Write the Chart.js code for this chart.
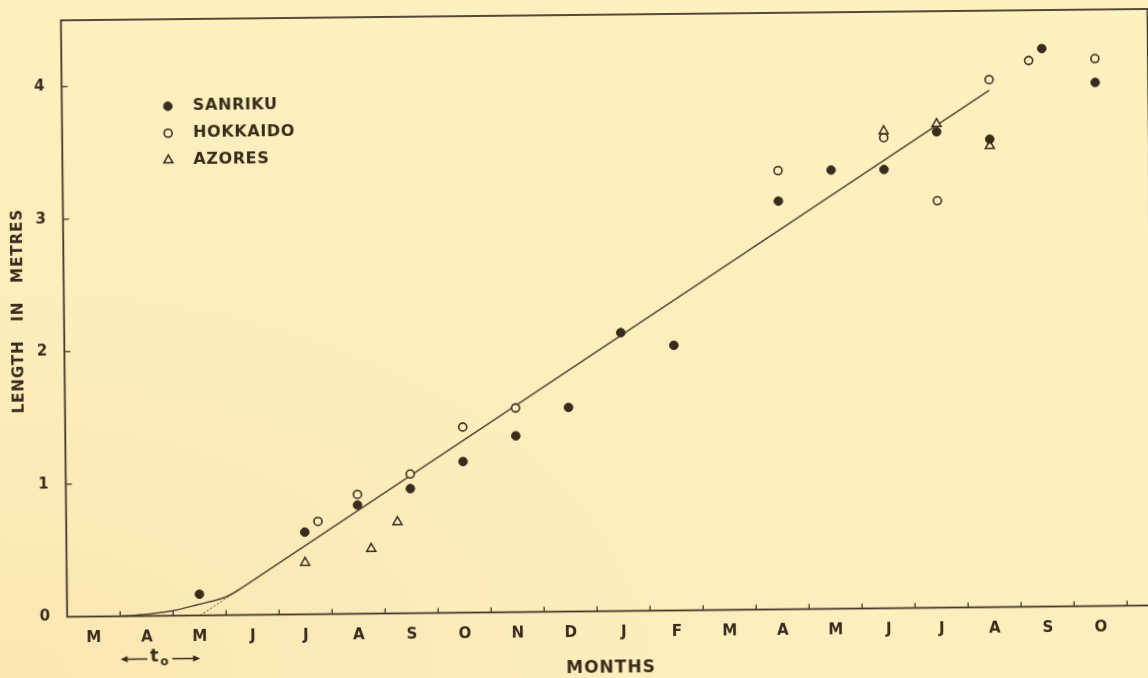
<!DOCTYPE html>
<html><head><meta charset="utf-8">
<script src="https://cdn.jsdelivr.net/npm/chart.js@4.4.1/dist/chart.umd.min.js"></script>
<style>
html,body{margin:0;padding:0;width:1148px;height:678px;overflow:hidden;background:#fcefbc;}
#page{position:relative;width:1148px;height:678px;overflow:hidden;
  background:radial-gradient(ellipse at 0% 100%, #fbe6b2 0%, #fcefbd 40%, #fdf1c0 100%);}
#wrap{position:absolute;left:-11px;top:-11px;width:1170px;height:700px;transform:rotate(-0.6deg);}
canvas{display:block;}
</style></head><body>
<div id="page"><div id="wrap"><canvas id="c" width="1170" height="700"></canvas></div></div>
<script>
// ---- data (months counted from 1 March of the first year) ----
const monthLabels = ['M','A','M','J','J','A','S','O','N','D','J','F','M','A','M','J','J','A','S','O'];
const monthCentres = [0.5,1.5,2.5,3.5,4.5,5.5,6.5,7.5,8.5,9.5,10.5,11.5,12.5,13.5,14.5,15.5,16.5,17.5,18.5,19.5];
const monthBoundaries = [1,2,3,4,5,6,7,8,9,10,11,12,13,14,15,16,17,18,19,20];
const yTicks = [0,1,2,3,4];
const seriesNames = ['SANRIKU','HOKKAIDO','AZORES'];

const sanrikuMonth  = [2.5, 4.5, 5.5, 6.5, 7.5, 8.5, 9.5, 10.5, 11.5, 13.5, 14.5, 15.5, 16.5, 17.5, 18.5, 19.5];
const sanrikuLength = [0.16,0.62,0.82,0.94,1.14,1.33,1.54,2.10, 2.00, 3.08, 3.31, 3.31, 3.59, 3.53, 4.21, 3.95];

const hokkaidoMonth  = [4.75,5.5, 6.5, 7.5, 8.5, 13.5,15.5,16.5,17.5,18.25,19.5];
const hokkaidoLength = [0.70,0.90,1.05,1.40,1.54,3.31,3.55,3.07,3.98,4.12, 4.13];

const azoresMonth  = [4.5, 5.75,6.25,15.5,16.5,17.5];
const azoresLength = [0.39,0.49,0.69,3.60,3.65,3.48];

// fitted growth curve
const curveMonth  = [1.0, 1.5,  2.0,  2.5,  2.75, 3.0,  3.15, 3.3];
const curveLength = [0.0, 0.013,0.037,0.085,0.108,0.138,0.168,0.205];
const lineMonth   = [3.3, 17.5];
const lineLength  = [0.205, 3.90];
const tangentMonth  = [2.51, 3.3];
const tangentLength = [0.0, 0.205];
const t0Month = [1.0, 2.5];

// ---- styles ----
const ink = '#3a2c1c';
const lineInk = '#56452e';
const paper = '#fcefbc';
const FONT = 'DejaVu Sans';

const pts = (xs, ys) => xs.map((x, i) => ({x, y: ys[i]}));

const styleS = {pointStyle:'circle', radius:4.3, borderWidth:1, fill:ink, stroke:ink};
const styleH = {pointStyle:'circle', radius:4.0, borderWidth:1.6, fill:paper, stroke:ink};
const styleA = {pointStyle:'triangle', radius:5.2, borderWidth:1.5, fill:paper, stroke:ink};

function pointDs(label, xs, ys, st, order){
  return {label, data: pts(xs, ys), showLine:false, order,
    pointStyle: st.pointStyle, pointRadius: st.radius, pointHoverRadius: st.radius,
    pointBorderWidth: st.borderWidth, pointBackgroundColor: st.fill, pointBorderColor: st.stroke,
    backgroundColor: st.fill, borderColor: st.stroke};
}

const deco = {
  id: 'deco',
  afterDraw(chart){
    const {ctx, chartArea: a, scales: {x, y}} = chart;
    ctx.save();
    // frame
    ctx.strokeStyle = '#45372a';
    ctx.lineWidth = 1.8;
    ctx.strokeRect(a.left, a.top, a.right - a.left, a.bottom - a.top);
    // inner tick marks
    ctx.lineWidth = 1.3;
    ctx.beginPath();
    monthBoundaries.forEach(m => {
      const px = x.getPixelForValue(m);
      ctx.moveTo(px, a.bottom); ctx.lineTo(px, a.bottom - 5);
    });
    yTicks.forEach(v => {
      if (v === 0) return;
      const py = y.getPixelForValue(v);
      ctx.moveTo(a.left, py); ctx.lineTo(a.left + 6, py);
    });
    ctx.stroke();

    ctx.fillStyle = ink;
    const hasLS = ('letterSpacing' in ctx);
    // y axis title
    ctx.save();
    ctx.translate(a.left - 45, (a.top + a.bottom) / 2 - 8);
    ctx.rotate(-Math.PI / 2);
    ctx.font = 'bold 15px "' + FONT + '"';
    if (hasLS) ctx.letterSpacing = '1px';
    ctx.textAlign = 'center'; ctx.textBaseline = 'middle';
    ctx.fillText('LENGTH   IN   METRES', 0, 0);
    ctx.restore();
    // x axis title
    ctx.save();
    ctx.font = 'bold 17px "' + FONT + '"';
    if (hasLS) ctx.letterSpacing = '1px';
    ctx.textAlign = 'center'; ctx.textBaseline = 'middle';
    ctx.fillText('MONTHS', (a.left + a.right) / 2, a.bottom + 57);
    ctx.restore();

    // legend
    const styles = [styleS, styleH, styleA];
    const lx = a.left + 106, ly = a.top + 87, step = 27;
    styles.forEach((st, i) => {
      const cy = ly + i * step;
      ctx.fillStyle = st.fill; ctx.strokeStyle = st.stroke; ctx.lineWidth = st.borderWidth;
      if (Chart.helpers && Chart.helpers.drawPoint) {
        Chart.helpers.drawPoint(ctx, {pointStyle: st.pointStyle, radius: st.radius, borderWidth: st.borderWidth, rotation: 0}, lx, cy);
      }
      ctx.save();
      ctx.fillStyle = ink;
      ctx.font = 'bold 16px "' + FONT + '"';
      if (hasLS) ctx.letterSpacing = '0.6px';
      ctx.textAlign = 'left'; ctx.textBaseline = 'middle';
      ctx.fillText(seriesNames[i], lx + 25, cy);
      ctx.restore();
    });

    // t0 annotation
    const x1 = x.getPixelForValue(t0Month[0]);
    const x2 = x.getPixelForValue(t0Month[1]);
    const cx = (x1 + x2) / 2 - 2;
    const ay = a.bottom + 43;
    ctx.strokeStyle = ink; ctx.fillStyle = ink; ctx.lineWidth = 1.4;
    ctx.beginPath();
    ctx.moveTo(x1 + 2, ay); ctx.lineTo(cx - 11, ay);
    ctx.moveTo(cx + 14, ay); ctx.lineTo(x2 - 2, ay);
    ctx.stroke();
    ctx.beginPath();
    ctx.moveTo(x1, ay); ctx.lineTo(x1 + 7, ay - 3.2); ctx.lineTo(x1 + 7, ay + 3.2); ctx.closePath();
    ctx.moveTo(x2, ay); ctx.lineTo(x2 - 7, ay - 3.2); ctx.lineTo(x2 - 7, ay + 3.2); ctx.closePath();
    ctx.fill();
    ctx.font = 'bold 18px "' + FONT + '"';
    ctx.textAlign = 'center'; ctx.textBaseline = 'middle';
    ctx.fillText('t', cx - 4, ay - 2);
    ctx.font = 'bold 12px "' + FONT + '"';
    ctx.fillText('o', cx + 6, ay + 3);
    ctx.restore();
  }
};

new Chart(document.getElementById('c'), {
  type: 'scatter',
  data: {
    datasets: [
      pointDs(seriesNames[0], sanrikuMonth, sanrikuLength, styleS, 1),
      pointDs(seriesNames[1], hokkaidoMonth, hokkaidoLength, styleH, 2),
      pointDs(seriesNames[2], azoresMonth, azoresLength, styleA, 3),
      {label:'curve', data: pts(curveMonth, curveLength), showLine:true, pointRadius:0, order:10,
        borderColor: lineInk, borderWidth:1.5, cubicInterpolationMode:'monotone', fill:false},
      {label:'line', data: pts(lineMonth, lineLength), showLine:true, pointRadius:0, order:10,
        borderColor: lineInk, borderWidth:1.5, fill:false},
      {label:'tangent', data: pts(tangentMonth, tangentLength), showLine:true, pointRadius:0, order:10,
        borderColor: lineInk, borderWidth:1, borderDash:[2,2], fill:false}
    ]
  },
  options: {
    responsive:false, animation:false, devicePixelRatio:1,
    events: [],
    layout: {padding: {left:35.3, right:8.2, top:23.7, bottom:37.5}},
    plugins: {legend:{display:false}, tooltip:{enabled:false}},
    scales: {
      x: {type:'linear', min:0, max:20.5,
        grid:{display:false, drawTicks:false}, border:{display:false},
        afterBuildTicks: s => { s.ticks = monthCentres.map(v => ({value:v})); },
        afterFit: s => { s.height = 40; },
        ticks:{autoSkip:false, maxRotation:0, minRotation:0, padding:13, color:ink,
          font:{family:FONT, size:15, weight:'bold'},
          callback:(v, i) => monthLabels[i]}
      },
      y: {type:'linear', min:0, max:4.5,
        grid:{display:false, drawTicks:false}, border:{display:false},
        afterBuildTicks: s => { s.ticks = yTicks.map(v => ({value:v})); },
        afterFit: s => { s.width = 40; },
        ticks:{padding:17, color:ink, font:{family:FONT, size:15, weight:'bold'},
          callback: v => String(v)}
      }
    }
  },
  plugins: [deco]
});
</script>
</body></html>
